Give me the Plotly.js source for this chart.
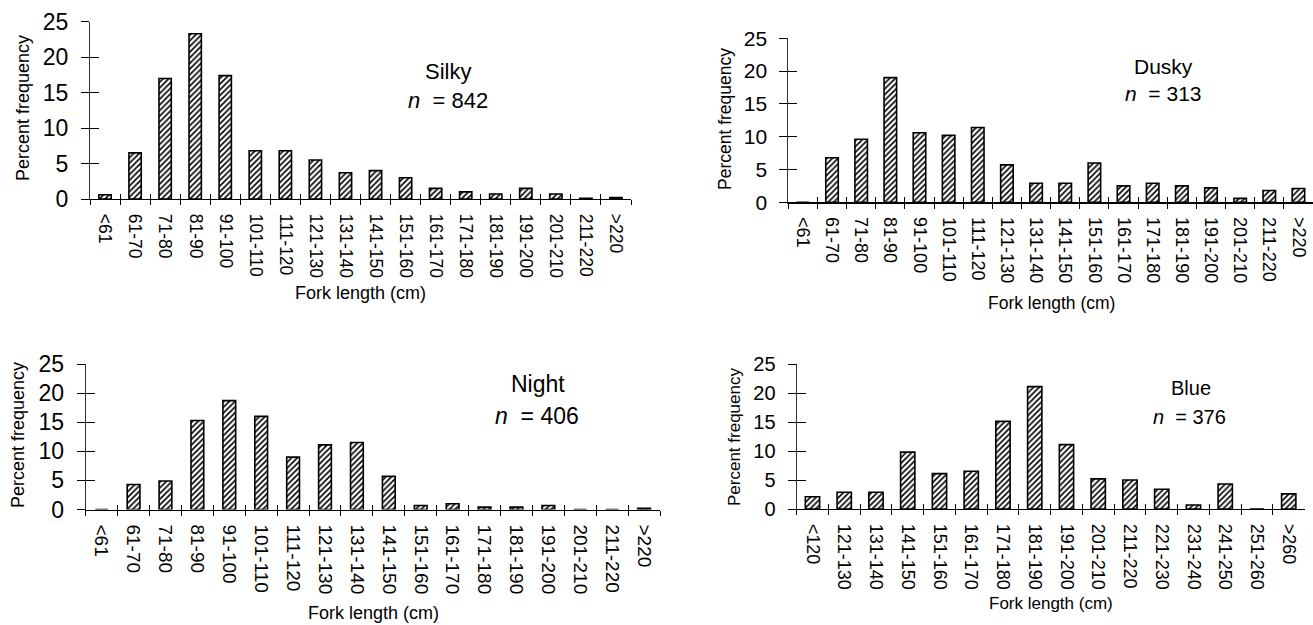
<!DOCTYPE html>
<html><head><meta charset="utf-8">
<script src="https://cdn.plot.ly/plotly-3.0.1.min.js"></script>
<style>html,body{margin:0;padding:0;background:#fff}#chart{width:1313px;height:625px}</style>
</head><body><div id="chart"></div>
<script>
// ---- data ----
const sharkCategories = ['<61','61-70','71-80','81-90','91-100','101-110','111-120','121-130','131-140','141-150','151-160','161-170','171-180','181-190','191-200','201-210','211-220','>220'];
const blueCategories = ['<120','121-130','131-140','141-150','151-160','161-170','171-180','181-190','191-200','201-210','211-220','221-230','231-240','241-250','251-260','>260'];
const silkyValues = [0.6, 6.5, 17.0, 23.3, 17.4, 6.8, 6.8, 5.5, 3.7, 4.0, 3.0, 1.5, 1.0, 0.7, 1.5, 0.7, 0.1, 0.2];
const duskyValues = [0, 6.8, 9.6, 19.0, 10.6, 10.2, 11.4, 5.7, 2.9, 2.9, 6.0, 2.5, 2.9, 2.5, 2.2, 0.6, 1.8, 2.1];
const nightValues = [0, 4.3, 4.9, 15.3, 18.7, 16.0, 9.0, 11.1, 11.5, 5.7, 0.7, 1.0, 0.4, 0.4, 0.7, 0, 0, 0.2];
const blueValues = [2.1, 2.9, 2.9, 9.8, 6.1, 6.5, 15.1, 21.1, 11.1, 5.2, 5.0, 3.4, 0.7, 4.3, 0, 2.6];
const panelNames = ['Silky', 'Dusky', 'Night', 'Blue'];
const sampleSizes = [842, 313, 406, 376];
const yTickValues = [0, 5, 10, 15, 20, 25];
const xAxisTitle = 'Fork length (cm)';
const yAxisTitle = 'Percent frequency';

// ---- layout geometry (pixels) ----
const W = 1313, H = 625;
const FONT = 'Liberation Sans, Arial, Helvetica, sans-serif';
const panels = [
  {cats: sharkCategories, vals: silkyValues, px: [90, 631], py: [21.7, 199], yTickFont: 23, xTickFont: 17.5,
   namePos: [448, 72], nPos: [448, 100], nameFont: 22, xTitlePos: [360.5, 293], yTitlePos: [23, 108], yTitleFont: 18, barW: 0.41},
  {cats: sharkCategories, vals: duskyValues, px: [788.3, 1313], py: [38.3, 202.3], yTickFont: 21, xTickFont: 18,
   namePos: [1163, 67], nPos: [1163, 93], nameFont: 21, xTitlePos: [1051, 303], yTitlePos: [724.5, 119.5], yTitleFont: 17.5, barW: 0.43},
  {cats: sharkCategories, vals: nightValues, px: [85.7, 660], py: [364, 509.5], yTickFont: 23, xTickFont: 19,
   namePos: [537.5, 384], nPos: [537, 416], nameFont: 23, xTitlePos: [373, 613], yTitlePos: [18, 435], yTitleFont: 18, barW: 0.40},
  {cats: blueCategories, vals: blueValues, px: [796.6, 1304.6], py: [364, 509], yTickFont: 20, xTickFont: 18,
   namePos: [1190.6, 388], nPos: [1189, 417], nameFont: 20, xTitlePos: [1050.5, 603], yTitlePos: [734, 437], yTitleFont: 17, barW: 0.45}
];

const traces = [];
const layout = {
  width: W, height: H, margin: {l: 0, r: 0, t: 0, b: 0},
  paper_bgcolor: '#fff', plot_bgcolor: 'rgba(0,0,0,0)',
  showlegend: false, font: {family: FONT, color: '#000'},
  annotations: []
};

panels.forEach((p, i) => {
  const k = i + 1, ko = i + 5;
  const xs = k === 1 ? 'x' : 'x' + k, ys = k === 1 ? 'y' : 'y' + k;
  const xd = [p.px[0] / W, Math.min(1, p.px[1] / W)];
  const yd = [1 - p.py[1] / H, 1 - p.py[0] / H];
  const n = p.cats.length;

  traces.push({
    type: 'bar', x: p.cats, y: p.vals, xaxis: xs, yaxis: ys, width: p.barW,
    marker: {color: '#fff', line: {color: '#000', width: 1.6},
             pattern: {shape: '/', fgcolor: '#000', bgcolor: '#fff', size: 4, solidity: 0.4}},
    hoverinfo: 'x+y'
  });
  // empty trace for overlay axes (inside tick halves)
  traces.push({type: 'scatter', x: [], y: [], xaxis: 'x' + ko, yaxis: 'y' + ko, hoverinfo: 'skip', showlegend: false});

  layout['xaxis' + (k === 1 ? '' : k)] = {
    domain: xd, anchor: ys, type: 'category', categoryorder: 'array', categoryarray: p.cats,
    range: [-0.5, n - 0.5], tickangle: 90, ticks: 'outside', ticklen: 5, tickwidth: 1, tickcolor: '#000',
    tickson: 'boundaries', ticklabelstandoff: 10, tickfont: {size: p.xTickFont, family: FONT, color: '#000'},
    showline: true, linecolor: '#000', linewidth: 1.2, showgrid: false, zeroline: false, fixedrange: true
  };
  layout['yaxis' + (k === 1 ? '' : k)] = {
    domain: yd, anchor: xs, range: [0, 25], tickvals: yTickValues, ticks: 'outside', ticklen: 8, tickwidth: 1, tickcolor: '#000',
    ticklabelstandoff: 8, tickfont: {size: p.yTickFont, family: FONT, color: '#000'},
    showline: true, linecolor: '#333', linewidth: 1, showgrid: false, zeroline: false, fixedrange: true
  };
  layout['xaxis' + ko] = {
    domain: xd, anchor: 'y' + ko, overlaying: xs, range: [0, n], tick0: 0, dtick: 1,
    ticks: 'inside', ticklen: 5, tickwidth: 1, tickcolor: '#000', showticklabels: false,
    showline: false, showgrid: false, zeroline: false, fixedrange: true
  };
  layout['yaxis' + ko] = {
    domain: yd, anchor: 'x' + ko, overlaying: ys, range: [0, 25], tick0: 0, dtick: 5,
    ticks: 'inside', ticklen: 9, tickwidth: 1, tickcolor: '#000', showticklabels: false,
    showline: false, showgrid: false, zeroline: false, fixedrange: true
  };

  const ann = (text, pos, size, extra) => Object.assign({
    text: text, xref: 'paper', yref: 'paper', x: pos[0] / W, y: 1 - pos[1] / H,
    xanchor: 'center', yanchor: 'middle', showarrow: false, font: {size: size, family: FONT, color: '#000'}
  }, extra || {});
  layout.annotations.push(ann(panelNames[i], p.namePos, p.nameFont));
  layout.annotations.push(ann('<i>n</i>&nbsp; = ' + sampleSizes[i], p.nPos, p.nameFont));
  layout.annotations.push(ann(xAxisTitle, p.xTitlePos, p.yTitleFont));
  layout.annotations.push(ann(yAxisTitle, p.yTitlePos, p.yTitleFont, {textangle: -90}));
});

Plotly.newPlot('chart', traces, layout, {staticPlot: true, displayModeBar: false});
</script>
</body></html>
